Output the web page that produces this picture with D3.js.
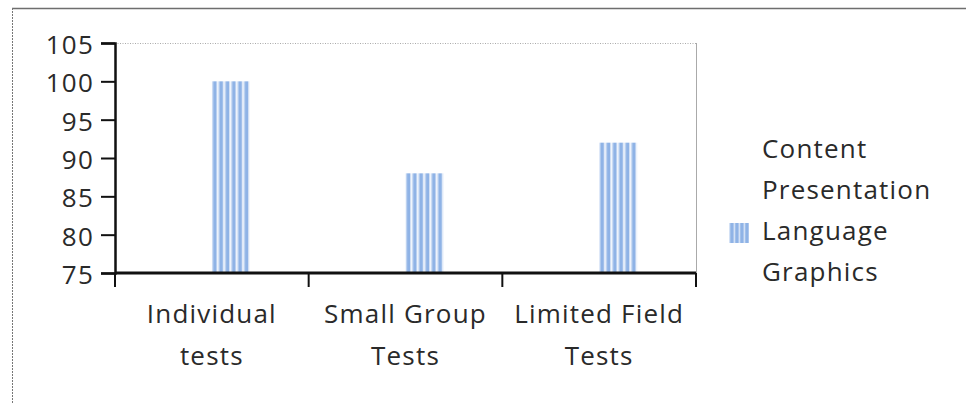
<!DOCTYPE html>
<html>
<head>
<meta charset="utf-8">
<script src="https://cdn.jsdelivr.net/npm/d3@7"></script>
<style>
    body { margin: 0; background: #fff; }
    svg text { font-family: "Open Sans", sans-serif; font-size: 26px; fill: #2a2a2a; letter-spacing: 1.2px; }
</style>
</head>
<body>
<svg id="chart" width="966" height="403"></svg>
<script>
const categories = ["Individual tests", "Small Group Tests", "Limited Field Tests"];
const categoryLines = [["Individual", "tests"], ["Small Group", "Tests"], ["Limited Field", "Tests"]];
const seriesNames = ["Content", "Presentation", "Language", "Graphics"];
const content = [null, null, null];
const presentation = [null, null, null];
const language = [100, 88, 92];
const graphics = [null, null, null];
const yTicks = [75, 80, 85, 90, 95, 100, 105];

const series = [content, presentation, language, graphics].map((values, i) => ({
    name: seriesNames[i],
    values: values
}));

const margin = { top: 43, right: 270, bottom: 130, left: 115 };
const width = 966 - margin.left - margin.right;
const height = 403 - margin.top - margin.bottom;

const svg = d3.select("#chart");
const defs = svg.append("defs");

// vertical stripe fill, one tile per stripe
function stripes(id, count) {
    const p = defs.append("pattern")
        .attr("id", id)
        .attr("patternUnits", "objectBoundingBox")
        .attr("patternContentUnits", "userSpaceOnUse")
        .attr("width", 1 / count)
        .attr("height", 1);
    p.append("rect").attr("x", 0).attr("y", 0).attr("width", 1.2).attr("height", 400).attr("fill", "#d3e1f5");
    p.append("rect").attr("x", 1.2).attr("y", 0).attr("width", 3.6).attr("height", 400).attr("fill", "#8fb3e6");
    p.append("rect").attr("x", 4.8).attr("y", 0).attr("width", 0.8).attr("height", 400).attr("fill", "#c9daf3");
}
stripes("stripeBar", 6);
stripes("stripeKey", 4);

const fills = { Language: "url(#stripeBar)" };

// outer chart frame
svg.append("line").attr("x1", 12).attr("x2", 966).attr("y1", 8.5).attr("y2", 8.5)
    .attr("stroke", "#6e6e6e").attr("stroke-width", 1.5);
svg.append("line").attr("x1", 12.5).attr("x2", 12.5).attr("y1", 8).attr("y2", 403)
    .attr("stroke", "#777").attr("stroke-dasharray", "2,1");

const g = svg.append("g").attr("transform", `translate(${margin.left},${margin.top})`);

const x0 = d3.scaleBand().domain(categories).range([0, width]);
const x1 = d3.scaleBand().domain(seriesNames).range([0, x0.bandwidth()]).paddingOuter(0.55);
const y = d3.scaleLinear().domain([75, 105]).range([height, 0]);

// plot area border (top dotted, right solid)
g.append("line").attr("x1", 0).attr("x2", width).attr("y1", 0.5).attr("y2", 0.5)
    .attr("stroke", "#aaa").attr("stroke-dasharray", "1,1.5");
g.append("line").attr("x1", width + 0.5).attr("x2", width + 0.5).attr("y1", 0).attr("y2", height)
    .attr("stroke", "#aaa");

// bars
series.forEach(s => {
    if (!fills[s.name]) return;
    g.append("g").selectAll("rect")
        .data(s.values.map((v, i) => ({ cat: categories[i], v: v })).filter(d => d.v != null))
        .join("rect")
        .attr("x", d => x0(d.cat) + x1(s.name))
        .attr("y", d => y(d.v))
        .attr("width", x1.bandwidth())
        .attr("height", d => height - y(d.v))
        .attr("fill", fills[s.name]);
});

// y axis
const yAxis = g.append("g").call(d3.axisLeft(y).tickValues(yTicks).tickSize(14).tickPadding(7));
yAxis.select(".domain").attr("stroke", "#111").attr("stroke-width", 2.5);
yAxis.selectAll(".tick line").attr("stroke", "#111").attr("stroke-width", 2);
yAxis.selectAll(".tick text").attr("dy", "0.4em");

// x axis
const xAxis = g.append("g").attr("transform", `translate(0,${height})`);
xAxis.append("line").attr("x1", 0).attr("x2", width).attr("y1", 0).attr("y2", 0)
    .attr("stroke", "#111").attr("stroke-width", 3);
const bounds = categories.map(c => x0(c)).concat([width]);
xAxis.selectAll(".xtick").data(bounds).join("line")
    .attr("x1", d => d).attr("x2", d => d).attr("y1", 0).attr("y2", 14)
    .attr("stroke", "#111").attr("stroke-width", 2);
xAxis.selectAll(".xlabel").data(categories).join("text")
    .attr("text-anchor", "middle")
    .attr("transform", d => `translate(${x0(d) + x0.bandwidth() / 2},0)`)
    .each(function(d, i) {
        d3.select(this).selectAll("tspan").data(categoryLines[i]).join("tspan")
            .attr("x", 0)
            .attr("y", (t, j) => 50 + j * 42)
            .text(t => t);
    });

// legend
const legend = svg.append("g").attr("transform", "translate(729,158)");
const rows = legend.selectAll("g").data(seriesNames).join("g")
    .attr("transform", (d, i) => `translate(0,${i * 41})`);
rows.filter(d => fills[d]).append("rect")
    .attr("x", 0).attr("y", -17).attr("width", 20).attr("height", 20)
    .attr("fill", "url(#stripeKey)");
rows.append("text").attr("x", 33).attr("y", 0).text(d => d);
</script>
</body>
</html>
